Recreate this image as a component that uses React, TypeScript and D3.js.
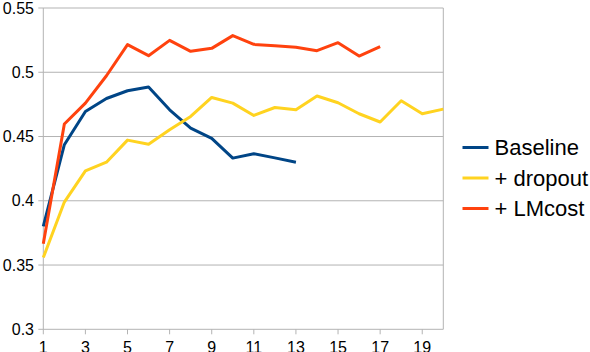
import React from "react";
import * as d3 from "d3";

const epochs = d3.range(1, 21);
const baseline = [0.380, 0.4436, 0.4695, 0.4796, 0.4856, 0.4885, 0.4708, 0.4566, 0.4485, 0.4332, 0.4366, 0.4334, 0.430];
const dropout = [0.3558, 0.399, 0.4233, 0.430, 0.4472, 0.444, 0.4553, 0.4656, 0.4804, 0.476, 0.4664, 0.4726, 0.4708, 0.4815, 0.4763, 0.4677, 0.4613, 0.4778, 0.4677, 0.4713];
const lmcost = [0.3665, 0.4597, 0.476, 0.4973, 0.5215, 0.5129, 0.5248, 0.5163, 0.5186, 0.5285, 0.5217, 0.5207, 0.5194, 0.5168, 0.523, 0.5126, 0.5199];
const yTicks = [0.3, 0.35, 0.4, 0.45, 0.5, 0.55];
const xTicks = [1, 3, 5, 7, 9, 11, 13, 15, 17, 19];
const seriesNames = ["Baseline", "+ dropout", "+ LMcost"];
const seriesColors = ["#004586", "#ffd320", "#ff420e"];

export default function App() {
  const W = 590, H = 352;
  const left = 43.3, right = 443.3, top = 8, bottom = 329.3;
  const x = d3.scaleLinear().domain([1, 20]).range([left, right]);
  const y = d3.scaleLinear().domain([0.3, 0.55]).range([bottom, top]);
  const line = d3.line<number>().x((_, i) => x(epochs[i])).y((d) => y(d));
  const allSeries = [baseline, dropout, lmcost];
  const font = "'Liberation Sans', Arial, sans-serif";
  return (
    <svg width={W} height={H} style={{ position: "absolute", left: 0, top: 0, background: "#fff" }} fontFamily={font}>
      {yTicks.map((t) => (
        <g key={t}>
          <line x1={left - 5} x2={right} y1={y(t)} y2={y(t)} stroke="#b3b3b3" strokeWidth={1} />
          <text x={34} y={y(t)} textAnchor="end" dominantBaseline="central" fontSize={16} fill="#000">
            {t === 0.5 ? "0.5" : t === 0.4 ? "0.4" : t === 0.3 ? "0.3" : String(t)}
          </text>
        </g>
      ))}
      <line x1={left} x2={left} y1={top} y2={bottom} stroke="#b3b3b3" strokeWidth={1} />
      <line x1={right} x2={right} y1={top} y2={bottom} stroke="#b3b3b3" strokeWidth={1} />
      {xTicks.map((t) => (
        <g key={t}>
          <line x1={x(t)} x2={x(t)} y1={bottom} y2={bottom + 5} stroke="#b3b3b3" strokeWidth={1} />
          <text x={x(t)} y={353.2} textAnchor="middle" fontSize={16} fill="#000">{t}</text>
        </g>
      ))}
      {allSeries.map((s, i) => (
        <path key={i} d={line(s) || ""} fill="none" stroke={seriesColors[i]} strokeWidth={3} strokeLinejoin="round" />
      ))}
      {seriesNames.map((n, i) => {
        const ly = 147.5 + i * 30.5;
        return (
          <g key={n}>
            <line x1={462.5} x2={488.5} y1={ly} y2={ly} stroke={seriesColors[i]} strokeWidth={3} />
            <text x={494.5} y={ly} dominantBaseline="central" fontSize={22} fill="#000">{n}</text>
          </g>
        );
      })}
    </svg>
  );
}
